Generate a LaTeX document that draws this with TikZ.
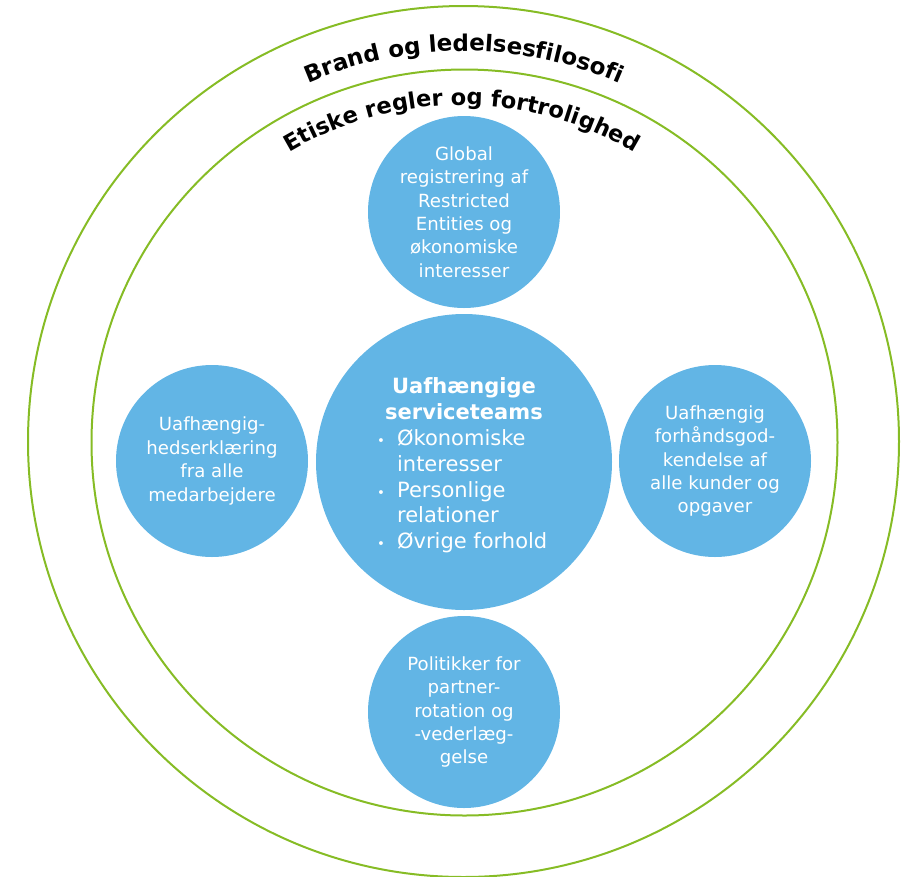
\documentclass[tikz,border=0pt]{standalone}
\usepackage{fontspec}
\setmainfont{DejaVu Sans}
\usetikzlibrary{decorations.text}

\definecolor{ringgreen}{RGB}{134,188,37}
\definecolor{bubbleblue}{RGB}{98,181,229}

\tikzset{every picture/.style={line width=0.75pt}}
\tikzset{
  ring/.style={draw=ringgreen, line width=1.5pt},
  bubble/.style={circle, fill=bubbleblue, text=white, inner sep=0pt,
    minimum size=144pt, align=center, font=\fontsize{13.6}{17.6}\selectfont},
  hub/.style={bubble, minimum size=222pt, font=\fontsize{15.75}{19.4}\selectfont}
}
\newcommand{\hubdot}{{\fontsize{10}{10}\selectfont\textbullet}}

\begin{document}
\begin{tikzpicture}[x=0.75pt,y=0.75pt,yscale=-1,xscale=1]
\useasboundingbox (0,0) rectangle (904,876);

%Shape: Circle (outer ring)
\draw [ring] (463.5,441.5) circle [radius=435.5];
%Shape: Circle (inner ring)
\draw [ring] (464.5,442.5) circle [radius=373];

%Curved text
\path [decorate, decoration={text along path, text align=center,
    text={|\fontsize{17.2}{20}\selectfont\bfseries|Brand og ledelsesfilosofi}}]
  (464,442) ++(180:391) arc [start angle=180, end angle=360, radius=391];
%Curved text
\path [decorate, decoration={text along path, text align=center,
    text={|\fontsize{16.9}{20}\selectfont\bfseries|Etiske regler og fortrolighed}}]
  (462,442) ++(180:337) arc [start angle=180, end angle=360, radius=337];

% Bubbles
\node [hub] (team) at (464,462) {\raisebox{-3pt}[\height][\depth]{%
  \begin{tabular}{@{}c@{\hspace{9pt}}l@{}}
  \multicolumn{2}{c}{\bfseries Uafhængige}\\
  \multicolumn{2}{c}{\bfseries serviceteams}\\
  \hubdot & Økonomiske\\
   & interesser\\
  \hubdot & Personlige\\
   & relationer\\
  \hubdot & Øvrige forhold
  \end{tabular}}};
\node [bubble] (register) at (464,212) {Global\\registrering af\\Restricted\\Entities og\\økonomiske\\interesser};
\node [bubble] (declare) at (212,461) {Uafhængig-\\hedserklæring\\fra alle\\medarbejdere};
\node [bubble] (approve) at (715,461) {Uafhængig\\forhåndsgod-\\kendelse af\\alle kunder og\\opgaver};
\node [bubble] (rotate) at (464,712) {Politikker for\\partner-\\rotation og\\-vederlæg-\\gelse};

\end{tikzpicture}
\end{document}
